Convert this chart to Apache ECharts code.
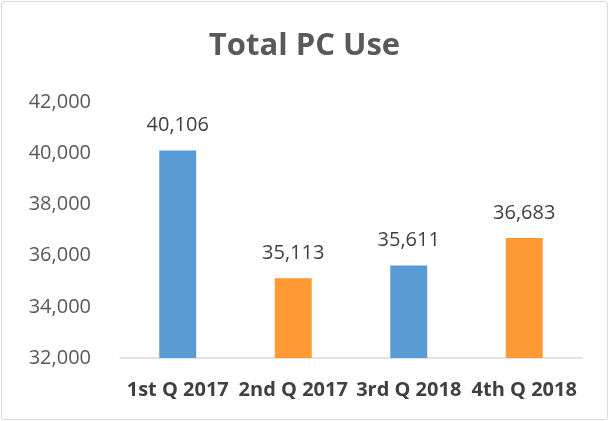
<!DOCTYPE html>
<html>
<head>
<meta charset="utf-8">
<script src="https://cdn.jsdelivr.net/npm/echarts@6/dist/echarts.min.js"></script>
<style>
html,body{margin:0;padding:0;background:#fff;}
#frame{position:absolute;left:1px;top:1px;width:605px;height:417px;border:1px solid #d9d9d9;border-radius:3px;}
#chart{position:absolute;left:0;top:0;width:609px;height:421px;}
</style>
</head>
<body>
<div id="frame"></div>
<div id="chart"></div>
<script>
const titleText = "Total PC Use";
const categories = ["1st Q 2017", "2nd Q 2017", "3rd Q 2018", "4th Q 2018"];
const values = [40106, 35113, 35611, 36683];
const barColors = ["#5B9BD5", "#FF9933", "#5B9BD5", "#FF9933"];
const yMin = 32000, yMax = 42000, yStep = 2000;

const fontFam = "'Open Sans', 'Noto Sans', sans-serif";
const chart = echarts.init(document.getElementById('chart'), null, {renderer: 'canvas'});
chart.setOption({
  animation: false,
  backgroundColor: 'transparent',
  title: {
    text: titleText, left: 'center', top: 26,
    textStyle: {fontFamily: fontFam, fontSize: 31, fontWeight: 'bold', color: '#595959'}
  },
  grid: {left: 120, right: 27, top: 102, bottom: 63},
  xAxis: {
    type: 'category', data: categories,
    axisLine: {lineStyle: {color: '#d9d9d9', width: 1.5}},
    axisTick: {show: false},
    axisLabel: {interval: 0, margin: 22, fontFamily: fontFam, fontSize: 20, fontWeight: 'bold', color: '#404040'}
  },
  yAxis: {
    type: 'value', min: yMin, max: yMax, interval: yStep,
    axisLine: {show: false}, axisTick: {show: false}, splitLine: {show: false},
    axisLabel: {margin: 29, fontFamily: fontFam, fontSize: 20, color: '#595959',
      formatter: v => v.toLocaleString('en-US')}
  },
  series: [{
    type: 'bar', barWidth: '32%',
    data: values.map((v, i) => ({value: v, itemStyle: {color: barColors[i]}})),
    label: {show: true, position: 'top', distance: 15, fontFamily: fontFam, fontSize: 20, color: '#404040',
      formatter: p => p.value.toLocaleString('en-US')}
  }]
});
</script>
</body>
</html>
